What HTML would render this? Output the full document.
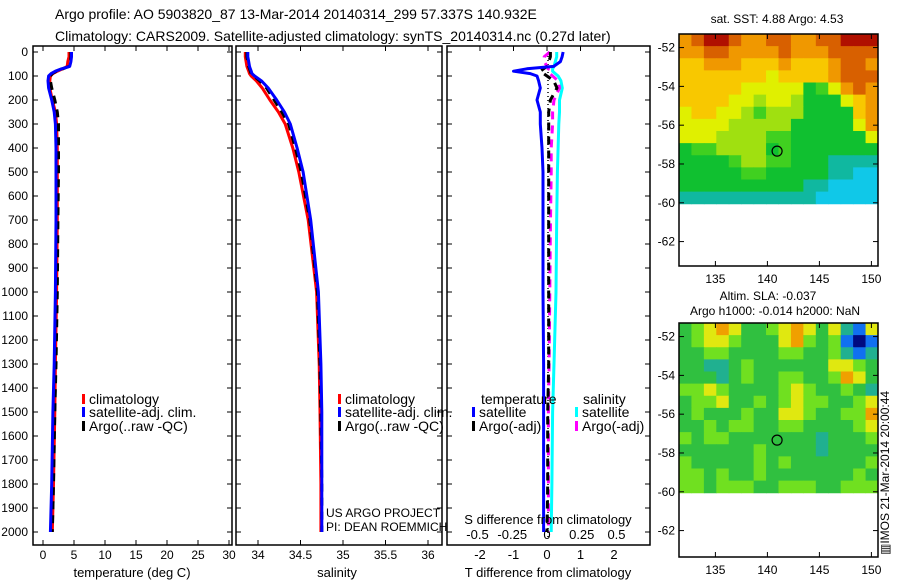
<!DOCTYPE html>
<html><head><meta charset="utf-8"><style>
body{margin:0;background:#fff;}
svg{display:block;font-family:"Liberation Sans",sans-serif;}
</style></head><body>
<svg id="fig" width="900" height="580" viewBox="0 0 900 580">
<text x="55" y="19" font-size="14">Argo profile: AO 5903820_87 13-Mar-2014 20140314_299 57.337S 140.932E</text>
<text x="55" y="41" font-size="14">Climatology: CARS2009. Satellite-adjusted climatology: synTS_20140314.nc (0.27d later)</text>
<text x="777" y="23" font-size="12" text-anchor="middle">sat. SST: 4.88 Argo: 4.53</text>
<text x="768" y="300" font-size="12" text-anchor="middle">Altim. SLA: -0.037</text>
<text x="775" y="315" font-size="12" text-anchor="middle">Argo h1000: -0.014 h2000: NaN</text>
<text transform="translate(889,555) rotate(-90)" font-size="12">▥IMOS 21-Mar-2014 20:00:44</text>
<text x="326" y="517" font-size="12">US ARGO PROJECT</text>
<text x="326" y="531" font-size="12">PI: DEAN ROEMMICH</text>
<g id="g"></g>
</svg>
<script>
// ---- data ----
const depths=[0,20,40,60,70,80,90,100,120,150,200,250,300,400,500,700,1000,1300,1500,1800,2000];
const tempClim=[4.2,4.2,4.0,3.9,3.2,2.3,1.6,1.2,1.1,1.1,1.5,2.0,2.2,2.3,2.3,2.3,2.2,2.0,1.9,1.7,1.5];
const tempSat=[4.6,4.6,4.5,4.3,3.0,2.0,1.3,0.9,0.8,0.9,1.4,1.8,2.0,2.1,2.1,2.1,2.0,1.8,1.6,1.4,1.2];
const tempArgo=[4.5,4.5,4.4,4.2,3.2,2.2,1.5,1.2,1.2,1.4,1.9,2.3,2.5,2.5,2.5,2.4,2.3,2.1,1.9,1.7,1.5];
const salClim=[33.85,33.85,33.86,33.87,33.88,33.89,33.9,33.92,33.98,34.05,34.14,34.24,34.32,34.41,34.48,34.59,34.69,34.72,34.73,34.74,34.74];
const salSat=[33.88,33.88,33.89,33.9,33.91,33.92,33.93,33.96,34.04,34.12,34.22,34.31,34.38,34.46,34.53,34.62,34.71,34.74,34.75,34.75,34.75];
const salArgo=[33.87,33.87,33.88,33.89,33.9,33.91,33.92,33.95,34.02,34.1,34.19,34.28,34.36,34.44,34.51,34.61,34.7,34.73,34.74,34.75,34.75];
const dTsat=[0.48,0.45,0.4,0.2,-0.6,-1.0,-0.5,-0.3,-0.25,-0.2,-0.3,-0.2,-0.2,-0.15,-0.12,-0.12,-0.12,-0.1,-0.1,-0.1,-0.1];
const dTargo=[0.1,0.1,0.05,0.0,-0.1,-0.2,-0.1,0.0,0.2,0.3,0.1,0.05,0.05,0.05,0.05,0.05,0.05,0.05,0.02,0.02,0.0];
const dSsat=[0.07,0.07,0.06,0.05,0.04,0.04,0.06,0.08,0.1,0.11,0.09,0.09,0.085,0.08,0.075,0.07,0.065,0.05,0.04,0.035,0.03];
const dSargo=[0.02,-0.02,-0.02,0.0,0.01,0.0,0.02,0.04,0.08,0.09,0.05,0.04,0.04,0.03,0.03,0.025,0.02,0.015,0.01,0.01,0.01];
const depthTicks=[0,100,200,300,400,500,600,700,800,900,1000,1100,1200,1300,1400,1500,1600,1700,1800,1900,2000];
const tempTicks=[0,5,10,15,20,25,30];
const salTicks=[34,34.5,35,35.5,36];
const dTTicks=[-2,-1,0,1,2];
const dSTicks=[-0.5,-0.25,0,0.25,0.5];
const latTicks=[-52,-54,-56,-58,-60,-62];
const lonTicks=[135,140,145,150];
const sstGrid=[
"89AA988998899AAA","8899888898889999","7788877787778998","7777777677778999",
"7777766666346898","7777665665333678","6776654555333378","6666555553333368",
"6665555443333336","3445555343333333","3333455443332222","3333344333332211",
"3333333333221111","2222222222211111"];
const slaGrid=[
"3456533456535215","3455433356434101","3344333344334212","3322343333335543",
"3332343344334653","4454333345433432","3445334345443345","3433343355433446",
"3343443344333345","4344333333323334","3333334333323333","4333334343333334",
"4434334333333343","4434443344433444"];
// ---- helpers ----
const NS="http://www.w3.org/2000/svg";const G=document.getElementById('g');
function mk(t,a,p){const e=document.createElementNS(NS,t);for(const k in a)e.setAttribute(k,a[k]);(p||G).appendChild(e);return e;}
const yTop=52,yPx=0.24;
const yD=d=>yTop+d*yPx;
const xT=v=>43+6.2*v, xS=v=>258+85*(v-34), xdT=v=>547+33.5*v, xdS=v=>547+139*v;
const frameBot=545;
function frame(x0,x1,name){const r=mk('rect',{x:x0,y:46,width:x1-x0,height:frameBot-46,fill:'none',stroke:'#000','stroke-width':1.5});

depthTicks.forEach(d=>{mk('line',{x1:x0,x2:x0+5,y1:yD(d),y2:yD(d),stroke:'#000'});mk('line',{x1:x1-5,x2:x1,y1:yD(d),y2:yD(d),stroke:'#000'});});}
function xticks(vals,fx,y,name){vals.forEach(v=>{const x=fx(v);mk('line',{x1:x,x2:x,y1:46,y2:51,stroke:'#000'});mk('line',{x1:x,x2:x,y1:frameBot-5,y2:frameBot,stroke:'#000'});
const t=mk('text',{x:x,y:y,'font-size':12,'text-anchor':'middle'});t.textContent=String(v);
});}
function line(xs,f,color,w,dash,name){const pts=depths.map((d,i)=>f(xs[i]).toFixed(1)+','+yD(d).toFixed(1)).join(' ');
const a={points:pts,fill:'none',stroke:color,'stroke-width':w,'stroke-linejoin':'round'};if(dash)a['stroke-dasharray']=dash;const e=mk('polyline',a);
}
function label(x,y,txt,name,anchor,fs){const t=mk('text',{x:x,y:y,'font-size':fs||12,'text-anchor':anchor||'start'});t.textContent=txt;}
function legend(x,y,color,txt,name){mk('rect',{x:x,y:y-10,width:3,height:10,fill:color});label(x+7,y,txt,name,'start',14);}
// y tick labels
depthTicks.forEach(d=>{const t=mk('text',{x:28,y:yD(d)+4,'font-size':12,'text-anchor':'end'});t.textContent=d;
});
// panel 1
frame(33,232,'temperature-panel');xticks(tempTicks,xT,559,'temperature-tick-label');
line(tempClim,xT,'#f00',3,null,'temperature-climatology-line');
line(tempArgo,xT,'#000',3,'8 6','temperature-argo-line');
line(tempSat,xT,'#00f',3,null,'temperature-satellite-line');
label(132,577,'temperature (deg C)','temperature-axis-title','middle',13);
legend(82,404,'#f00','climatology','legend-climatology');legend(82,417,'#00f','satellite-adj. clim.','legend-satellite');legend(82,431,'#000','Argo(..raw -QC)','legend-argo');
// panel 2
frame(236,442,'salinity-panel');xticks(salTicks,xS,559,'salinity-tick-label');
line(salClim,xS,'#f00',3,null,'salinity-climatology-line');
line(salArgo,xS,'#000',3,'8 6','salinity-argo-line');
line(salSat,xS,'#00f',3,null,'salinity-satellite-line');
label(337,577,'salinity','salinity-axis-title','middle',13);
legend(338,404,'#f00','climatology','legend-climatology-2');legend(338,417,'#00f','satellite-adj. clim.','legend-satellite-2');legend(338,431,'#000','Argo(..raw -QC)','legend-argo-2');
// panel 3
frame(447,650,'difference-panel');
dTTicks.forEach(v=>{const x=xdT(v);mk('line',{x1:x,x2:x,y1:46,y2:51,stroke:'#000'});label(x,559,String(v),'t-diff-tick-label','middle',13);});
dSTicks.forEach(v=>{const x=xdS(v);label(x,539,String(v),'s-diff-tick-label','middle',13);});
mk('line',{x1:548,x2:548,y1:52,y2:540,stroke:'#000','stroke-width':1.5,'stroke-dasharray':'1 3'});
line(dSsat,xdS,'#0ff',3,null,'salinity-diff-satellite-line');
line(dSargo,xdS,'#f0f',3,'8 6','salinity-diff-argo-line');
line(dTargo,xdT,'#000',3,'8 6','temperature-diff-argo-line');
line(dTsat,xdT,'#00f',3,null,'temperature-diff-satellite-line');
label(548,524,'S difference from climatology','s-diff-axis-title','middle',13);
label(548,577,'T difference from climatology','t-diff-axis-title','middle',13);
label(481,404,'temperature','legend-temperature-header','start',14);label(583,404,'salinity','legend-salinity-header','start',14);
legend(472,417,'#00f','satellite','legend-t-satellite');legend(472,431,'#000','Argo(-adj)','legend-t-argo');
legend(575,417,'#0ff','satellite','legend-s-satellite');legend(575,431,'#f0f','Argo(-adj)','legend-s-argo');
// maps
const sstColors=['#0a1fd0','#10c8e8','#10b8a0','#10c030','#40d020','#a0e010','#e0f000','#f8c800','#f09800','#d86000','#b01000'];
const slaColors=['#000a80','#1070f0','#20b090','#30c040','#70e020','#e0e810','#f0a000'];
const mapX0=679,mapX1=878,lat0=-51.3,latPx=19.4,lonPx=10.4,lon0=131.5;
const latY=(la,top)=>top+(lat0-la)*latPx, lonX=lo=>mapX0+(lo-lon0)*lonPx;
function map(grid,colors,top,bot,name){
const rows=grid.length,cols=grid[0].length,dataBot=latY(-60.05,top),cw=(mapX1-mapX0)/cols,ch=(dataBot-top)/rows;
grid.forEach((row,r)=>{for(let c=0;c<cols;c++){const v=parseInt(row[c],16);const e=mk('rect',{x:mapX0+c*cw,y:top+r*ch,width:cw+0.5,height:ch+0.5,fill:colors[v]});
}});
const f=mk('rect',{x:mapX0,y:top,width:mapX1-mapX0,height:bot-top,fill:'none',stroke:'#000','stroke-width':1.5});

latTicks.forEach(la=>{const y=latY(la,top);mk('line',{x1:mapX0,x2:mapX0+5,y1:y,y2:y,stroke:'#000'});mk('line',{x1:mapX1-5,x2:mapX1,y1:y,y2:y,stroke:'#000'});label(675,y+4,String(la),name+'-lat-label','end');});
lonTicks.forEach(lo=>{const x=lonX(lo);mk('line',{x1:x,x2:x,y1:top,y2:top+5,stroke:'#000'});mk('line',{x1:x,x2:x,y1:bot-5,y2:bot,stroke:'#000'});label(x,bot+17,String(lo),name+'-lon-label','middle');});
const ci=mk('circle',{cx:lonX(140.932),cy:latY(-57.337,top),r:5,fill:'none',stroke:'#000','stroke-width':1.2});
}
map(sstGrid,sstColors,34,266,'sst-map');
map(slaGrid,slaColors,323,557,'sla-map');
</script>
</body></html>
